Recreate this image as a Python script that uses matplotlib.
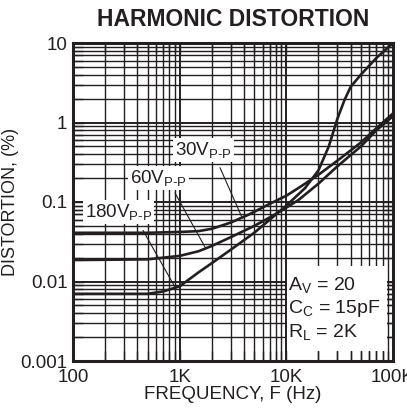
import numpy as np
import matplotlib
matplotlib.use("Agg")
import matplotlib.pyplot as plt
from matplotlib.patches import Rectangle

plt.rcParams['font.family'] = ['Liberation Sans', 'DejaVu Sans']
plt.rcParams['mathtext.fontset'] = 'custom'
plt.rcParams['mathtext.rm'] = 'Liberation Sans'
plt.rcParams['mathtext.it'] = 'Liberation Sans'

ink = '#231f20'

# distortion (%) vs frequency (Hz)
f_30 = [100, 500, 1000, 1500, 2000, 3000, 4500, 7000, 10000, 13000, 20000, 30000, 50000, 70000, 100000]
d_30 = [0.041, 0.041, 0.042, 0.043, 0.046, 0.055, 0.07, 0.095, 0.12, 0.15, 0.22, 0.33, 0.56, 0.85, 1.3]

f_60 = [100, 500, 1000, 1500, 2000, 3000, 5000, 7000, 10000, 13000, 20000, 30000, 50000, 70000, 100000]
d_60 = [0.0186, 0.019, 0.021, 0.024, 0.028, 0.036, 0.05, 0.064, 0.085, 0.106, 0.17, 0.28, 0.5, 0.8, 1.2]

f_180 = [100, 500, 700, 1000, 1500, 2000, 3000, 5000, 7000, 10000, 15000, 20000, 25000, 30000, 35000, 40000, 50000, 70000, 100000]
d_180 = [0.007, 0.007, 0.0075, 0.0087, 0.013, 0.017, 0.025, 0.041, 0.06, 0.09, 0.15, 0.25, 0.5, 1.1, 1.9, 2.8, 4.0, 6.5, 10.0]

x_ticks = [100, 1000, 10000, 100000]
x_labels = ['100', '1K', '10K', '100K']
y_ticks = [0.001, 0.01, 0.1, 1, 10]
y_labels = ['0.001', '0.01', '0.1', '1', '10']

fig = plt.figure(figsize=(4.07, 4.12), dpi=100)
ax = fig.add_axes([73 / 407, 1 - 361 / 412, 320 / 407, 318 / 412])
ax.set_xscale('log')
ax.set_yscale('log')
ax.set_xlim(100, 100000)
ax.set_ylim(0.001, 10)

# grid drawn by hand so the note box can sit over it while ticks stay on top
for dec in [100, 1000, 10000]:
    for m in range(1, 10):
        ax.axvline(dec * m, color=ink, lw=1.0 if m > 1 else 1.4, zorder=1)
for dec in [0.001, 0.01, 0.1, 1]:
    for m in range(1, 10):
        ax.axhline(dec * m, color=ink, lw=1.0 if m > 1 else 1.4, zorder=1)

ax.plot(f_30, d_30, color=ink, lw=1.9, zorder=2)
ax.plot(f_60, d_60, color=ink, lw=1.9, zorder=2)
ax.plot(f_180, d_180, color=ink, lw=1.9, zorder=2)

ax.set_xticks(x_ticks)
ax.set_xticklabels(x_labels)
ax.set_yticks(y_ticks)
ax.set_yticklabels(y_labels)
ax.tick_params(which='both', direction='in', top=True, right=True, colors=ink,
               labelsize=13.5, width=1.0)
ax.tick_params(which='major', length=8, pad=4)
ax.tick_params(axis='x', which='major', pad=6)
ax.tick_params(which='minor', length=7)
for s in ax.spines.values():
    s.set_linewidth(2.2)
    s.set_color(ink)
    s.set_zorder(5)

ax.set_xlabel('FREQUENCY, F (Hz)', fontsize=13.5, color=ink, labelpad=0)
ax.set_ylabel('DISTORTION, (%)', fontsize=13, color=ink, labelpad=1)
fig.text(233 / 407, 1 - 20 / 412, 'HARMONIC DISTORTION', ha='center', va='center',
         fontsize=16.5, fontweight='bold', color=ink)

box = dict(facecolor='white', edgecolor='none', pad=1.5)
lab_kw = dict(fontsize=13.5, color=ink, bbox=box, zorder=4, ha='left', va='baseline')
ax.text(904, 0.39, r'30V$_{\mathregular{P‐P}}$', **lab_kw)
ax.text(342, 0.173, r'60V$_{\mathregular{P‐P}}$', **lab_kw)
ax.text(130, 0.0648, r'180V$_{\mathregular{P‐P}}$', **lab_kw)

lead = dict(arrowstyle='-', lw=0.8, color=ink, shrinkA=0, shrinkB=0)
ax.annotate('', xy=(3800, 0.066), xytext=(2390, 0.27), arrowprops=lead, zorder=3)
ax.annotate('', xy=(1730, 0.027), xytext=(904, 0.13), arrowprops=lead, zorder=3)
ax.annotate('', xy=(904, 0.0085), xytext=(453, 0.044), arrowprops=lead, zorder=3)

ax.add_patch(Rectangle((0.67, 0.03), 0.31, 0.27, transform=ax.transAxes,
                       facecolor='white', edgecolor='none', zorder=3))
note_kw = dict(transform=ax.transAxes, fontsize=14, color=ink, zorder=4,
               ha='left', va='baseline')
ax.text(0.672, 0.223, r'A$_{\mathregular{V}}$ = 20', **note_kw)
ax.text(0.672, 0.151, r'C$_{\mathregular{C}}$ = 15pF', **note_kw)
ax.text(0.672, 0.075, r'R$_{\mathregular{L}}$ = 2K', **note_kw)

fig.savefig('out.png', dpi=100)
